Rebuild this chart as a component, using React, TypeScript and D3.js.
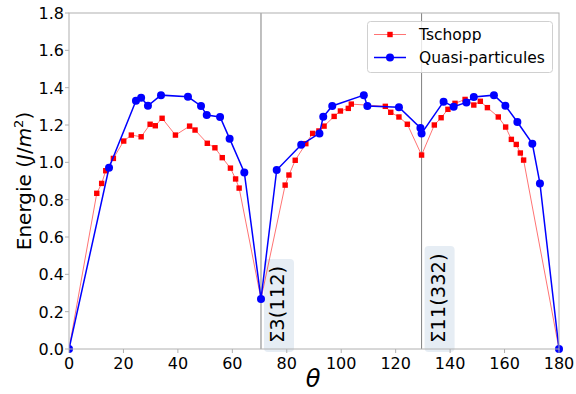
import React from "react";
import * as d3 from "d3";

const tschoppTheta = [0, 10.2, 12.0, 13.5, 16.3, 20.1, 22.9, 26.5, 29.8, 31.7, 34.2, 39.1, 44.3, 46.3, 50.8, 53.6, 56.3, 59.3, 61.2, 62.5, 70.53,
  79.4, 80.8, 83.1, 87.0, 89.5, 91.8, 93.7, 97.4, 99.7, 102.6, 103.7, 116.2, 118.2, 121.2, 124.3, 129.52,
  134.2, 136.7, 139.2, 141.8, 145.5, 148.7, 151.1, 153.7, 157.7, 160.4, 162.5, 164.3, 165.8, 167.0, 180];
const tschoppE = [0, 0.834, 0.887, 0.955, 1.021, 1.114, 1.146, 1.137, 1.204, 1.196, 1.236, 1.146, 1.194, 1.173, 1.102, 1.078, 1.025, 0.969, 0.911, 0.862, 0.268,
  0.878, 0.932, 1.011, 1.100, 1.155, 1.168, 1.194, 1.246, 1.275, 1.289, 1.312, 1.300, 1.268, 1.243, 1.204, 1.039,
  1.200, 1.239, 1.284, 1.316, 1.337, 1.307, 1.327, 1.293, 1.243, 1.189, 1.123, 1.096, 1.050, 1.012, 0];

const qpTheta = [0, 14.7, 24.6, 26.5, 29.0, 33.8, 43.7, 48.5, 50.6, 55.5, 59.0, 64.4, 70.53,
  76.3, 85.3, 92.0, 93.4, 96.7, 108.3, 109.6, 121.2, 129.1, 129.52,
  137.6, 141.3, 146.0, 148.7, 156.1, 160.3, 164.7, 170.2, 173.0, 180];
const qpE = [0, 0.971, 1.330, 1.346, 1.303, 1.360, 1.351, 1.302, 1.253, 1.243, 1.127, 0.946, 0.268,
  0.959, 1.094, 1.155, 1.244, 1.302, 1.360, 1.302, 1.295, 1.184, 1.155,
  1.325, 1.298, 1.321, 1.350, 1.360, 1.303, 1.216, 1.100, 0.887, 0];

const xTicks = [0, 20, 40, 60, 80, 100, 120, 140, 160, 180];
const yTicks = [0, 0.2, 0.4, 0.6, 0.8, 1.0, 1.2, 1.4, 1.6, 1.8];
const boundaries = [70.53, 129.52];
const boundaryLabels = ["Σ3(112)", "Σ11(332)"];
const seriesNames = ["Tschopp", "Quasi-particules"];

const W = 576, H = 394;
const L = 69, R = 559, T = 13, B = 349;
const FONT = "DejaVu Sans, sans-serif";

export default function App() {
  const x = d3.scaleLinear().domain([0, 180]).range([L, R]);
  const y = d3.scaleLinear().domain([0, 1.8]).range([B, T]);
  const tData = tschoppTheta.map((t, i) => [t, tschoppE[i]] as [number, number]);
  const qData = qpTheta.map((t, i) => [t, qpE[i]] as [number, number]);
  const line = d3.line<[number, number]>().x(d => x(d[0])).y(d => y(d[1]));
  const spine = "#b0b0b0";
  const boxTops = [259, 246];

  return (
    <div style={{ position: "absolute", left: 0, top: 0 }}>
      <svg width={W} height={H} style={{ display: "block", background: "#fff" }} fontFamily={FONT}>
        <defs>
          <clipPath id="plotclip">
            <rect x={L} y={T - 6} width={R - L + 6} height={B - T + 12} />
          </clipPath>
        </defs>
        {boundaries.map((b, i) => (
          <line key={"b" + i} x1={x(b)} x2={x(b)} y1={T} y2={B} stroke="#808080" strokeWidth={1} />
        ))}
        {boundaries.map((b, i) => {
          const top = boxTops[i];
          return (
            <g key={"bl" + i}>
              <rect x={x(b) + 3} y={top} width={30} height={B - top + 3} rx={4} fill="#dce6f0" fillOpacity={0.7} />
              <text transform={`translate(${x(b) + 23},${B - 6}) rotate(-90)`} fontSize={19.5} fill="#000">{boundaryLabels[i]}</text>
            </g>
          );
        })}
        <g clipPath="url(#plotclip)">
          <path d={line(tData) || ""} fill="none" stroke="red" strokeOpacity={0.55} strokeWidth={1} />
          {tData.map((d, i) => (
            <rect key={"t" + i} x={x(d[0]) - 2.7} y={y(d[1]) - 2.7} width={5.4} height={5.4} fill="red" />
          ))}
          <path d={line(qData) || ""} fill="none" stroke="blue" strokeWidth={1.5} />
          {qData.map((d, i) => (
            <circle key={"q" + i} cx={x(d[0])} cy={y(d[1])} r={4} fill="blue" />
          ))}
        </g>
        <rect x={L} y={T} width={R - L} height={B - T} fill="none" stroke={spine} strokeWidth={1} />
        {xTicks.map(t => (
          <g key={"xt" + t}>
            <line x1={x(t)} x2={x(t)} y1={B} y2={B + 4} stroke={spine} />
            <text x={x(t)} y={B + 20} fontSize={16} textAnchor="middle" fill="#000">{t}</text>
          </g>
        ))}
        {yTicks.map(t => (
          <g key={"yt" + t}>
            <line x1={L - 4} x2={L} y1={y(t)} y2={y(t)} stroke={spine} />
            <text x={L - 5} y={y(t) + 6} fontSize={16} textAnchor="end" fill="#000">{t.toFixed(1)}</text>
          </g>
        ))}
        <text x={313} y={387} fontSize={24} fontStyle="italic" textAnchor="middle" fill="#000">θ</text>
        <text transform={`translate(31,${(T + B) / 2}) rotate(-90)`} fontSize={20} textAnchor="middle" fill="#000">
          Energie (<tspan fontStyle="italic">J</tspan>/<tspan fontStyle="italic">m</tspan><tspan fontSize={13} dy={-8}>2</tspan><tspan dy={8}>)</tspan>
        </text>
        <g>
          <rect x={367.5} y={21.5} width={185} height={51} rx={3} fill="#fff" fillOpacity={0.8} stroke="#d0d0d0" strokeWidth={1} />
          <line x1={374} x2={406} y1={34.5} y2={34.5} stroke="red" strokeOpacity={0.55} strokeWidth={1} />
          <rect x={390 - 2.7} y={34.5 - 2.7} width={5.4} height={5.4} fill="red" />
          <text x={419} y={40} fontSize={15.5} fill="#000">{seriesNames[0]}</text>
          <line x1={374} x2={406} y1={57.5} y2={57.5} stroke="blue" strokeWidth={1.5} />
          <circle cx={390} cy={57.5} r={4} fill="blue" />
          <text x={419} y={63} fontSize={15.5} fill="#000">{seriesNames[1]}</text>
        </g>
      </svg>
    </div>
  );
}
